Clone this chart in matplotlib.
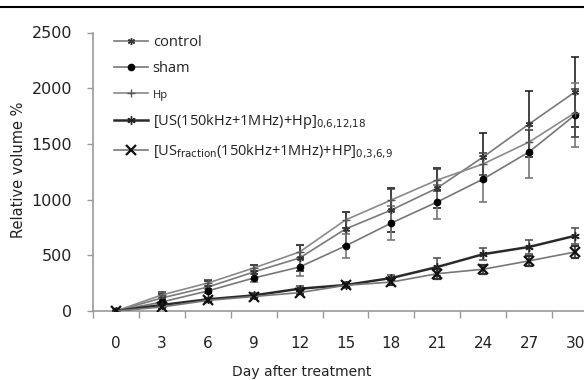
import matplotlib
matplotlib.use("Agg")
import matplotlib.pyplot as plt
from matplotlib.lines import Line2D
import numpy as np

days = [0, 3, 6, 9, 12, 15, 18, 21, 24, 27, 30]
control = [0, 117, 215, 350, 476, 736, 907, 1104, 1383, 1679, 1966]
control_err = [0, 40, 50, 60, 120, 150, 195, 180, 215, 300, 315]
sham = [0, 81, 180, 296, 395, 584, 790, 979, 1185, 1428, 1760]
sham_err = [0, 30, 20, 36, 81, 108, 153, 153, 206, 235, 290]
hp = [0, 144, 251, 386, 530, 817, 997, 1176, 1320, 1517, 1780]
hp_err = [0, 27, 27, 27, 60, 70, 100, 100, 100, 110, 215]
us = [0, 54, 105, 140, 200, 233, 296, 395, 510, 575, 675]
us_err = [0, 15, 15, 20, 25, 25, 30, 80, 55, 65, 70]
usf = [0, 36, 95, 130, 165, 230, 260, 335, 375, 450, 530]
usf_err = [0, 10, 15, 15, 15, 15, 25, 45, 40, 45, 50]

labels = ["control", "sham", "Hp",
          r"[US(150kHz+1MHz)+Hp]$_{\mathrm{0{,}6{,}12{,}18}}$",
          r"[US$_{\mathrm{fraction}}$(150kHz+1MHz)+HP]$_{\mathrm{0{,}3{,}6{,}9}}$"]
yticks = [0, 500, 1000, 1500, 2000, 2500]
xlabel = "Day after treatment"
ylabel = "Relative volume %"

W, H = 584, 380
fig = plt.figure(figsize=(W / 100, H / 100), dpi=100)
left, right, bottom, top = 93, 598, 311, 32.5
ax = fig.add_axes([left / W, 1 - bottom / H, (right - left) / W, (bottom - top) / H])

styles = [
    dict(color="#7a7a7a", marker=(6, 2, 0), ms=5, mfc="#333333", mec="#333333", lw=1.2, ecolor="#222222"),
    dict(color="#777777", marker="o", ms=4.5, mfc="black", mec="black", lw=1.2, ecolor="#777777"),
    dict(color="#8a8a8a", marker="+", ms=6, mfc="#555555", mec="#555555", lw=1.2, ecolor="#444444"),
    dict(color="#2a2a2a", marker=(6, 2, 0), ms=6, mfc="#222222", mec="#222222", lw=1.8, ecolor="#555555"),
    dict(color="#777777", marker="x", ms=7, mfc="#111111", mec="#111111", mew=1.6, lw=1.2, ecolor="#333333"),
]
series = [(control, control_err), (sham, sham_err), (hp, hp_err), (us, us_err), (usf, usf_err)]

handles = []
for (vals, err), st, lab in zip(series, styles, labels):
    st = dict(st)
    ec = st.pop("ecolor")
    ax.errorbar(days, vals, yerr=err, ecolor=ec, elinewidth=1.2, capsize=3, capthick=1.2,
                zorder=3, **st)
    handles.append(Line2D([], [], **st))

ax.set_xlim(-1.5, 31.5)
ax.set_ylim(0, 2500)
ax.set_yticks(yticks)
ax.set_xticks(days)
ax.set_xticks(np.arange(-1.5, 32, 3), minor=True)
ax.tick_params(axis="x", which="major", length=0, pad=18, labelsize=11, labelcolor="#222222")
ax.tick_params(axis="x", which="minor", length=5, color="#999999", width=1)
ax.tick_params(axis="y", length=4, color="#999999", width=1, labelsize=11.5, labelcolor="#222222", pad=11)
for s in ["top", "right"]:
    ax.spines[s].set_visible(False)
for s in ["left", "bottom"]:
    ax.spines[s].set_color("#999999")
    ax.spines[s].set_linewidth(1.2)

fig.text(302 / W, 1 - 372 / H, xlabel, ha="center", va="center", fontsize=10, color="#222222")
fig.text(19 / W, 1 - 170 / H, ylabel, ha="center", va="center", rotation=90, fontsize=10.5, color="#222222")

leg = fig.legend(handles, labels, loc="upper left", bbox_to_anchor=(114 / W, 1 - 35 / H),
                 frameon=False, borderpad=0, borderaxespad=0, handlelength=2.3,
                 handletextpad=0.35, labelspacing=0.78, prop={"family": "Open Sans", "size": 10.5})
for i, t in enumerate(leg.get_texts()):
    t.set_color("#222222")
    if i == 2:
        t.set_fontsize(8)

fig.add_artist(Line2D([0, 1], [1 - 7 / H] * 2, transform=fig.transFigure, color="black", lw=1.5))

fig.savefig("out.png", dpi=100)
